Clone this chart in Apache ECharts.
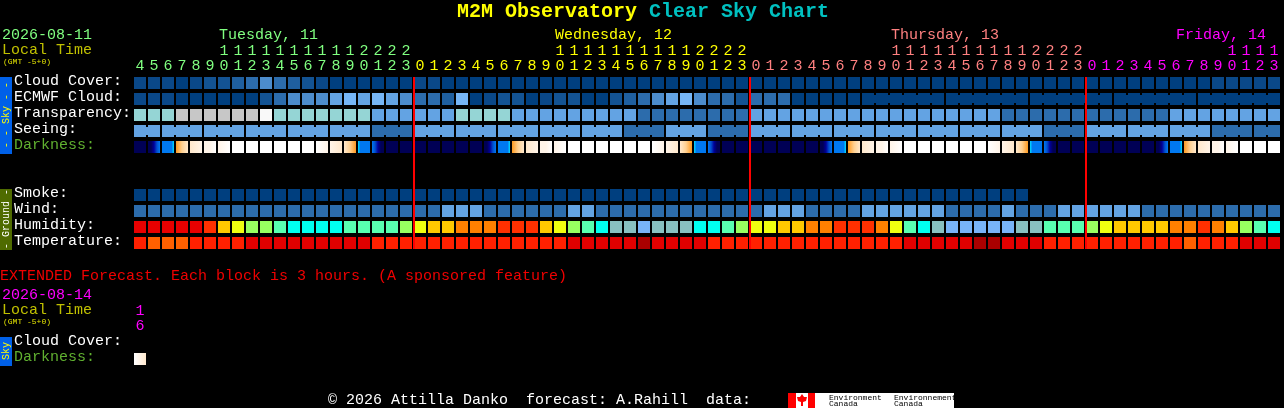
<!DOCTYPE html>
<html><head><meta charset="utf-8">
<style>html,body{margin:0;padding:0;background:#000}#c{width:1284px;height:408px}</style>
<script src="https://cdn.jsdelivr.net/npm/echarts@6/dist/echarts.min.js"></script>
</head><body><div id="c"></div>
<script>
const FONT = '"Liberation Mono","DejaVu Sans Mono",monospace';
const unitsDigits = [4,5,6,7,8,9,0,1,2,3,4,5,6,7,8,9,0,1,2,3,
  0,1,2,3,4,5,6,7,8,9,0,1,2,3,4,5,6,7,8,9,0,1,2,3,
  0,1,2,3,4,5,6,7,8,9,0,1,2,3,4,5,6,7,8,9,0,1,2,3,
  0,1,2,3,4,5,6,7,8,9,0,1,2,3];
const tensDigits = ['','','','','','',1,1,1,1,1,1,1,1,1,1,2,2,2,2,
  '','','','','','','','','','',1,1,1,1,1,1,1,1,1,1,2,2,2,2,
  '','','','','','','','','','',1,1,1,1,1,1,1,1,1,1,2,2,2,2,
  '','','','','','','','','','',1,1,1,1];
const dayOfColumn = [0,0,0,0,0,0,0,0,0,0,0,0,0,0,0,0,0,0,0,0,
  1,1,1,1,1,1,1,1,1,1,1,1,1,1,1,1,1,1,1,1,1,1,1,1,
  2,2,2,2,2,2,2,2,2,2,2,2,2,2,2,2,2,2,2,2,2,2,2,2,
  3,3,3,3,3,3,3,3,3,3,3,3,3,3];
const dayColors = ['#80FF80','#FFFF00','#FF8080','#FF00FF'];
const midnightColumns = [20,44,68];

const rowNames = ['Cloud Cover:','ECMWF Cloud:','Transparency:','Seeing:','Darkness:','','','Smoke:','Wind:','Humidity:','Temperature:'];

const bluePalette = ['#003F7F','#0A4888','#135393','#1F5F9F','#2C6CAC','#4C8CCC','#63A3E3','#76B6F6','#95D5D5','#C7C7C7','#F9F9F9'];
const humidityPalette = ['#E80000','#FF3000','#FF8000','#FFC800','#F0FF10','#98FF60','#58FFB0','#00FFF0','#88C0C0','#78B4F8'];
const temperaturePalette = ['#FF6000','#FF2000','#E00000','#AA0000'];
const darknessPalette = ['#000055','#000099','#0050D0','#0078F0','#00E0FF','#FF9A20','#FFD090','#FFE8CC','#FFF4E8','#FFFFFF'];

const cloudCover = [1,1,1,0,1,2,2,3,4,5,4,3,2,1,0,0,0,0,0,0,
  1,1,0,0,0,0,0,0,0,0,0,0,0,0,0,0,0,0,0,0,0,0,0,0,
  0,0,0,0,0,0,0,0,0,0,0,0,0,0,0,0,0,0,0,0,0,0,0,0,
  0,0,0,0,0,0,0,0,0,1,1,1,1,1];
const ecmwfCloud = [1,1,1,0,0,0,0,0,0,2,4,5,5,5,6,7,6,7,6,5,
  4,4,3,7,0,1,2,2,0,1,2,2,0,0,2,3,4,5,6,7,5,4,4,2,
  4,4,4,0,0,0,0,0,0,0,0,0,0,0,0,0,0,0,0,0,0,0,0,0,
  0,0,0,0,0,0,0,0,0,0,0,0,0,0];
const transparency = [8,8,8,9,9,9,9,9,9,10,8,8,8,8,8,8,8,6,6,6,
  6,6,6,8,8,8,8,6,6,6,6,6,6,6,6,6,4,4,4,4,4,4,4,4,
  6,6,6,6,6,6,6,6,6,6,6,6,6,6,6,6,6,6,4,4,4,4,4,4,
  4,4,4,4,4,4,6,6,6,6,6,6,6,6];
const seeing = [6,6,6,6,6,6,6,6,6,6,6,6,6,6,6,6,6,4,4,4,
  6,6,6,6,6,6,6,6,6,6,6,6,6,6,6,4,4,4,6,6,6,4,4,4,
  6,6,6,6,6,6,6,6,6,6,6,6,6,6,6,6,6,6,6,6,6,4,4,4,
  6,6,6,6,6,6,6,6,6,4,4,4,4,4];
const smoke = [0,0,0,0,0,0,0,0,0,0,0,0,0,0,0,0,0,0,0,0,
  0,0,0,0,0,0,0,0,0,0,0,0,0,0,0,0,0,0,0,0,0,0,0,0,
  0,0,0,0,0,0,0,0,0,0,0,0,0,0,0,0,0,0,0,0];
const wind = [4,4,4,4,4,4,4,4,4,4,4,4,4,4,4,4,4,4,4,4,
  4,4,6,6,6,4,4,4,4,4,4,6,6,4,4,4,4,4,4,4,4,4,4,4,
  4,6,6,6,4,4,4,4,6,6,6,6,6,6,4,4,4,4,6,4,4,4,6,6,
  6,6,6,6,4,4,4,4,4,4,4,4,4,4];
const humidity = [0,0,0,0,0,1,3,4,5,5,6,7,7,7,7,6,6,6,6,5,
  4,3,3,2,2,2,1,1,1,3,4,5,6,7,8,8,9,8,8,8,7,7,6,5,
  4,4,3,3,2,2,1,1,1,2,4,6,7,8,9,9,9,9,9,8,8,6,6,6,
  5,4,3,3,3,3,2,2,1,2,3,5,6,7];
const temperature = [1,0,0,0,1,1,1,1,2,2,2,2,2,2,2,2,2,1,1,1,
  1,1,1,1,1,1,1,1,1,1,1,2,2,2,2,2,3,2,2,2,2,1,1,1,
  1,1,1,1,1,1,1,1,1,1,1,2,2,2,2,2,3,3,2,2,2,1,1,1,
  1,1,1,1,1,1,1,0,1,1,1,2,2,2];

// Darkness: each block is a list of colour levels read left to right.
const N=[0], UP1=[0,0,1,2,3], UP2=[3,3,3,3,3,4], D1=[5,6,7], D2=[7,8], D3=[8,8,9], D4=[8,9], W=[9],
      S3=[9,8], S2=[8,7], S1=[7,6,5], DK1=[4,3,3,3,3,3], DK2=[3,2,1,0,0];
const darkness = [N,UP1,UP2,D1,D2,D3,D4,W,W,W,W,W,W,S3,S2,S1,DK1,DK2,N,N,
  N,N,N,N,N,UP1,UP2,D1,D2,D3,D4,W,W,W,W,W,W,S3,S2,S1,DK1,DK2,N,N,
  N,N,N,N,N,UP1,UP2,D1,D2,D3,D4,W,W,W,W,W,W,S3,S2,S1,DK1,DK2,N,N,
  N,N,N,N,N,UP1,UP2,D1,D2,D3,D4,W,W,W];
const extendedDarkness = [[9,8,7]];
const extendedRows = ['Cloud Cover:','Darkness:'];
const extendedTens = [1];
const extendedUnits = [6];

// Blocks sharing a forecast period are joined by a narrow bridge.
const seeingPeriods = [0,0,1,1,1,2,2,2,3,3,3,4,4,4,5,5,5,6,6,6,
  7,7,7,8,8,8,9,9,9,10,10,10,11,11,11,12,12,12,13,13,13,14,14,14,
  15,15,15,16,16,16,17,17,17,18,18,18,19,19,19,20,20,20,21,21,21,22,22,22,
  23,23,23,24,24,24,25,25,25,26,26,26,27,27];
const ecmwfPeriods = [-1,-2,-3,-4,-5,-6,-7,-8,-9,-10,-11,-12,-13,-14,-15,-16,-17,-18,-19,-20,
  -21,-22,-23,-24,-25,-26,-27,-28,-29,-30,-31,-32,-33,-34,-35,-36,-37,-38,-39,-40,-41,-42,-43,-44,
  -45,-46,-47,-48,-49,-50,-51,-52,1,1,1,1,1,1,2,2,2,2,2,2,3,3,3,3,
  3,3,4,4,4,4,4,4,5,5,5,5,5,5];

const solid = (values, palette) => (i) => palette[values[i]];
function gradientFill(levels){
  if (levels.length === 1) return darknessPalette[levels[0]];
  return new echarts.graphic.LinearGradient(0,0,1,0,
    levels.map((l,k)=>({offset:k/(levels.length-1),color:darknessPalette[l]})));
}

function cellSeries(row, values, fillOf, periods, xIdx, yIdx){
  return {
    type:'custom', xAxisIndex:xIdx||0, yAxisIndex:yIdx||0, clip:false, silent:true, z:2,
    encode:{x:0,y:1},
    data:values.map((v,i)=>[i,row]),
    renderItem(params,api){
      const i = api.value(0), c = api.coord([i,api.value(1)]), s = api.size([1,1]);
      const w = s[0]-2, h = s[1]-4, x = c[0]-w/2, y = c[1]-h/2, fill = fillOf(i);
      const kids = [{type:'rect',shape:{x,y,width:w,height:h},style:{fill}}];
      if (periods && periods[i]===periods[i+1] && i+1<values.length)
        kids.push({type:'rect',shape:{x:x+w,y:y+2,width:2,height:h-4},style:{fill}});
      return {type:'group',children:kids};
    }
  };
}

const midnightSeries = {
  type:'custom', xAxisIndex:0, yAxisIndex:0, clip:false, silent:true, z:5, encode:{x:0,y:1},
  data:midnightColumns.map(c=>[c,0]),
  renderItem(params,api){
    const c = api.coord([api.value(0),0]), s = api.size([1,1]);
    const bottom = api.coord([api.value(0),rowNames.length-1]);
    return {type:'rect',shape:{x:c[0]-s[0]/2,y:c[1]-s[1]/2+2,width:2,height:bottom[1]-c[1]+s[1]-4},style:{fill:'#FF0000'}};
  }
};

const hourAxis = (labels, gridIndex, offset, colorOf) => ({
  type:'category', gridIndex, position:'top', offset, data:labels.map((v,i)=>i),
  axisLine:{show:false}, axisTick:{show:false}, splitLine:{show:false},
  axisLabel:{show:true, interval:0, margin:9, fontFamily:FONT, fontSize:15, verticalAlign:'middle',
    formatter:(v,i)=>String(labels[i]), color:(v,i)=>colorOf(i)}
});
const rowAxis = (names, gridIndex, margin) => ({
  type:'category', gridIndex, inverse:true, data:names.map((n,i)=>i),
  axisLine:{show:false}, axisTick:{show:false}, splitLine:{show:false},
  axisLabel:{show:true, interval:0, margin, align:'left', verticalAlign:'middle',
    formatter:(v,i)=>names[i]===''?'':('{'+(names[i]==='Darkness:'?'dark':'plain')+'|'+names[i]+'}'),
    rich:{plain:{color:'#FFFFFF',fontFamily:FONT,fontSize:15,padding:[0,0,3,0]},
          dark:{color:'#60B030',fontFamily:FONT,fontSize:15,padding:[0,0,3,0]}}}
});
const txt = (x,y,text,fill,size,extra) => Object.assign({type:'text',x,y,silent:true,
  style:{text,fill,font:(size||15)+'px '+FONT,textVerticalAlign:'middle',verticalAlign:'middle'}},extra||{});
const box = (x,y,w,h,fill) => ({type:'rect',silent:true,shape:{x,y,width:w,height:h},style:{fill}});
const tag = (x,y,text,fill) => ({type:'text',x,y,rotation:Math.PI/2,silent:true,
  style:{text,fill,font:'10px '+FONT,align:'center',verticalAlign:'middle'}});

const option = {
  backgroundColor:'#000000', animation:false,
  title:{left:457,top:1,padding:0,text:'{a|M2M Observatory }{b|Clear Sky Chart}',
    textStyle:{rich:{a:{color:'#FFFF00',fontFamily:FONT,fontWeight:'bold',fontSize:20,height:22},
                     b:{color:'#00C0C0',fontFamily:FONT,fontWeight:'bold',fontSize:20,height:22}}}},
  grid:[{left:133,top:75,width:1148,height:176},{left:133,top:335,width:14,height:32}],
  xAxis:[
    hourAxis(unitsDigits,0,0,i=>dayColors[dayOfColumn[i]]),
    hourAxis(tensDigits,0,15,i=>dayColors[dayOfColumn[i]]),
    hourAxis(extendedUnits,1,0,()=>'#FF00FF'),
    hourAxis(extendedTens,1,15,()=>'#FF00FF')
  ],
  yAxis:[rowAxis(rowNames,0,119),rowAxis(extendedRows,1,119)],
  series:[
    cellSeries(0,cloudCover,solid(cloudCover,bluePalette)),
    cellSeries(1,ecmwfCloud,solid(ecmwfCloud,bluePalette),ecmwfPeriods),
    cellSeries(2,transparency,solid(transparency,bluePalette)),
    cellSeries(3,seeing,solid(seeing,bluePalette),seeingPeriods),
    cellSeries(4,darkness,i=>gradientFill(darkness[i])),
    cellSeries(7,smoke,solid(smoke,bluePalette)),
    cellSeries(8,wind,solid(wind,bluePalette)),
    cellSeries(9,humidity,solid(humidity,humidityPalette)),
    cellSeries(10,temperature,solid(temperature,temperaturePalette)),
    midnightSeries,
    cellSeries(1,extendedDarkness,i=>gradientFill(extendedDarkness[i]),null,2,1)
  ],
  graphic:{elements:[
    txt(2,35,'2026-08-11','#80FF80'), txt(2,50,'Local Time','#C0C000'), txt(3,62,'(GMT -5+0)','#E0E000',8),
    txt(219,35,'Tuesday, 11',dayColors[0]), txt(555,35,'Wednesday, 12',dayColors[1]),
    txt(891,35,'Thursday, 13',dayColors[2]), txt(1176,35,'Friday, 14',dayColors[3]),
    box(0,77,12,77,'#0060E8'), tag(6,115,'- - Sky - -','#FFFF00'),
    box(0,189,12,61,'#4F6B00'), tag(6,219,'- Ground -','#FFFFFF'),
    txt(0,276.5,'EXTENDED Forecast. Each block is 3 hours. (A sponsored feature)','#F00000'),
    txt(2,295,'2026-08-14','#FF00FF'), txt(2,310,'Local Time','#C0C000'), txt(3,322,'(GMT -5+0)','#E0E000',8),
    box(0,337,12,29,'#0060E8'), tag(6,351,'Sky','#FFFF00'),
    txt(328,400,'\u00A9 2026 Attilla Danko  forecast: A.Rahill  data:','#FFFFFF'),
    box(788,393,166,15,'#FFFFFF'), box(788,393,8,15,'#FF0000'), box(808,393,7,15,'#FF0000'),
    {type:'polygon',silent:true,shape:{points:[[802,394],[804,397],[807,397],[806,401],[803,402],[803,406],[801,406],[801,402],[798,401],[797,397],[800,397]]},style:{fill:'#FF0000'}},
    txt(829,398,'Environment','#000000',8), txt(829,404,'Canada','#000000',8),
    txt(894,398,'Environnement','#000000',8), txt(894,404,'Canada','#000000',8)
  ]}
};
echarts.init(document.getElementById('c'),null,{renderer:'canvas'}).setOption(option);
</script></body></html>
